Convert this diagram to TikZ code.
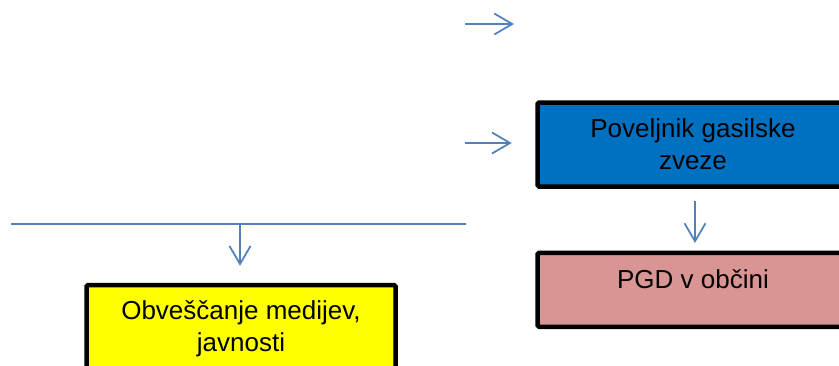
\documentclass[tikz,border=0pt]{standalone}
\usepackage{fontspec}
\setmainfont{Liberation Sans}
\usetikzlibrary{arrows.meta}
\definecolor{linkblue}{HTML}{4F81BD}
\definecolor{boxblue}{HTML}{0070C0}
\definecolor{boxpink}{HTML}{D99594}
\definecolor{boxyellow}{HTML}{FFFF00}

\begin{document}
\begin{tikzpicture}[x=1pt,y=-1pt,
  box/.style={draw=black,line width=4.5pt,rounded corners=1.5pt,minimum width=311pt,
    align=center,inner sep=0pt,font=\fontsize{26}{32}\selectfont},
  link/.style={draw=linkblue,line width=1.75pt},
  tip/.style={-{Straight Barb[length=18pt,width=21pt,line width=1.75pt]}}]
  \useasboundingbox (0,0) rectangle (839,365);
  \clip (0,0) rectangle (839,365);
  \node (PGZ) [box,fill=boxblue,minimum height=84pt] at (693,144.5) {Poveljnik gasilske\\zveze};
  \node (PGD) [box,fill=boxpink,anchor=north,text height=35.5pt,text depth=38.5pt] at (693,250.5) {PGD v občini};
  \node (media) [box,fill=boxyellow,minimum height=88pt,minimum width=309pt] at (241,329) {Obveščanje medijev,\\javnosti};
  \coordinate (top-in) at (465,24);
  \coordinate (top-out) at (514,24);
  \coordinate (pgz-in) at (465,143);
  \coordinate (bus-l) at (11,224);
  \coordinate (bus-r) at (466,224);
  \coordinate (bus-m) at (240,224);
  \path[link]
    (bus-l) edge (bus-r)
    (top-in) edge [tip] (top-out)
    (pgz-in) edge [tip,shorten >=23.5pt] (pgz-in -| PGZ.west)
    ([xshift=2pt]PGZ.south) edge [tip,shorten <=12.5pt,shorten >=7.5pt] ([xshift=2pt]PGD.north)
    (bus-m) edge [tip,shorten >=17pt] (bus-m |- media.north);
\end{tikzpicture}
\end{document}
